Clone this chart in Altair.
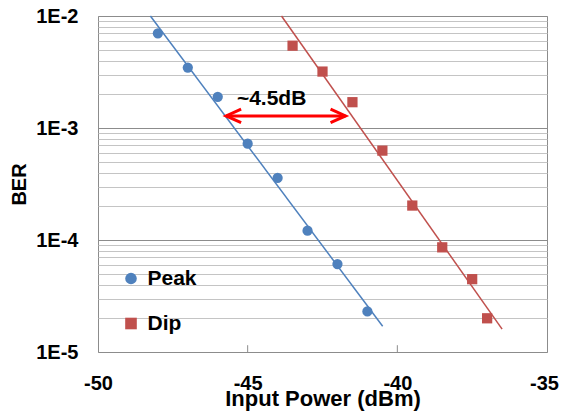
import altair as alt
import pandas as pd

# ---- data ----
peak_x = [-48, -47, -46, -45, -44, -43, -42, -41]
peak_y = [7.0e-3, 3.46e-3, 1.90e-3, 7.25e-4, 3.58e-4, 1.21e-4, 6.1e-5, 2.3e-5]
dip_x = [-43.5, -42.5, -41.5, -40.5, -39.5, -38.5, -37.5, -37.0]
dip_y = [5.43e-3, 3.19e-3, 1.70e-3, 6.28e-4, 2.03e-4, 8.6e-5, 4.47e-5, 2.0e-5]

# trendline end points (as drawn)
peak_fit_x = [-48.25, -40.49]
peak_fit_y = [1e-2, 1.7e-5]
dip_fit_x = [-43.87, -36.5]
dip_fit_y = [1e-2, 1.6e-5]

# annotation
arrow_x = [-45.72, -41.73]
arrow_y = 1.28e-3
note_x = -44.2
note_y = 1.61e-3
note_text = "~4.5dB"

series_names = ["Peak", "Dip"]
series_colors = ["#4F81BD", "#C0504D"]
series_shapes = ["circle", "square"]

x_ticks = [-50, -45, -40, -35]
inner_tick_x = [-45, -40]
y_grid = [m * 10.0 ** e for e in (-5, -4, -3) for m in range(1, 10)] + [1e-2]

FONT = "Liberation Sans"

pts = pd.DataFrame(
    {"x": peak_x + dip_x,
     "y": peak_y + dip_y,
     "series": ["Peak"] * len(peak_x) + ["Dip"] * len(dip_x)}
)
peak_fit = pd.DataFrame({"x": peak_fit_x, "y": peak_fit_y})
dip_fit = pd.DataFrame({"x": dip_fit_x, "y": dip_fit_y})
arrow = pd.DataFrame({"x": [arrow_x[0]], "x2": [arrow_x[1]], "y": [arrow_y]})
heads = pd.DataFrame({"x": arrow_x, "y": [arrow_y, arrow_y], "side": ["L", "R"]})
note = pd.DataFrame({"x": [note_x], "y": [note_y], "t": [note_text]})
itick = pd.DataFrame({"x": inner_tick_x, "y": [1e-5] * 2, "y2": [1.15e-5] * 2})

xscale = alt.Scale(domain=[-50, -35], nice=False)
yscale = alt.Scale(type="log", domain=[1e-5, 1e-2], nice=False)

is_decade = "abs(log(datum.value)/LN10 - round(log(datum.value)/LN10)) < 0.001"

xaxis = alt.Axis(
    values=x_ticks, grid=False, ticks=False, tickSize=0, domain=False, labelFlush=False,
    labelExpr="'' + datum.value",
    labelOffset={"condition": {"test": "datum.value == -35", "value": -3}, "value": 0},
    labelFont=FONT, labelFontSize=20, labelFontWeight="bold", labelColor="black",
    labelPadding=21, title="Input Power (dBm)", titleFont=FONT, titleFontSize=22,
    titleFontWeight="bold", titleColor="black", titleBaseline="alphabetic", titleY=53,
)
yaxis = alt.Axis(
    values=y_grid, grid=True, labelFlush=False,
    gridColor={"condition": {"test": is_decade, "value": "#8C8C8C"}, "value": "#C4C4C4"},
    ticks=False, tickSize=0, domain=False,
    labelExpr=f"{is_decade} ? '1E' + round(log(datum.value)/LN10) : ''",
    labelFont=FONT, labelFontSize=20, labelFontWeight="bold", labelColor="black",
    labelPadding=20, title="BER", titleFont=FONT, titleFontSize=20,
    titleFontWeight="bold", titleColor="black", titleAngle=-90, titleX=-79, titleY=168,
    titleAlign="center", titleBaseline="middle",
)

base_x = alt.X("x:Q", scale=xscale, axis=xaxis)
base_y = alt.Y("y:Q", scale=yscale, axis=yaxis)

peak_line = alt.Chart(peak_fit).mark_line(color=series_colors[0], strokeWidth=1.5).encode(
    x=alt.X("x:Q", scale=xscale), y=alt.Y("y:Q", scale=yscale))
dip_line = alt.Chart(dip_fit).mark_line(color=series_colors[1], strokeWidth=1.5).encode(
    x=alt.X("x:Q", scale=xscale), y=alt.Y("y:Q", scale=yscale))

points = alt.Chart(pts).mark_point(filled=True, opacity=1, size=105).encode(
    x=base_x, y=base_y,
    color=alt.Color("series:N", scale=alt.Scale(domain=series_names, range=series_colors),
                    legend=alt.Legend(title=None, orient="none", legendX=22.5, legendY=252,
                                      padding=0, labelFont=FONT, labelFontSize=21,
                                      labelFontWeight="bold", labelColor="black",
                                      symbolSize=135, labelOffset=6, rowPadding=23,
                                      symbolStrokeWidth=0)),
    shape=alt.Shape("series:N", scale=alt.Scale(domain=series_names, range=series_shapes)),
)

arrow_line = alt.Chart(arrow).mark_rule(color="#FF0000", strokeWidth=3).encode(
    x=alt.X("x:Q", scale=xscale), x2="x2:Q", y=alt.Y("y:Q", scale=yscale))

head_l = alt.Chart(heads[heads.side == "L"]).mark_point(
    shape="M 1 -0.45 L 0 0 L 1 0.45", filled=False, size=900, color="#FF0000",
    strokeWidth=3, opacity=1, strokeJoin="miter").encode(
    x=alt.X("x:Q", scale=xscale), y=alt.Y("y:Q", scale=yscale))
head_r = alt.Chart(heads[heads.side == "R"]).mark_point(
    shape="M -1 -0.45 L 0 0 L -1 0.45", filled=False, size=900, color="#FF0000",
    strokeWidth=3, opacity=1, strokeJoin="miter").encode(
    x=alt.X("x:Q", scale=xscale), y=alt.Y("y:Q", scale=yscale))

note_mark = alt.Chart(note).mark_text(
    font=FONT, fontSize=21, fontWeight="bold", color="black", align="center",
    baseline="alphabetic").encode(
    x=alt.X("x:Q", scale=xscale), y=alt.Y("y:Q", scale=yscale), text="t:N")

inner_ticks = alt.Chart(itick).mark_rule(color="#8C8C8C", strokeWidth=1).encode(
    x=alt.X("x:Q", scale=xscale), y=alt.Y("y:Q", scale=yscale), y2="y2:Q")

chart = alt.layer(
    points, peak_line, dip_line, inner_ticks, arrow_line, head_l, head_r, note_mark
).properties(
    width=449, height=336,
    autosize=alt.AutoSizeParams(type="none"),
    padding={"left": 90, "top": 8, "right": 12, "bottom": 62},
).configure_view(stroke="#8C8C8C", strokeWidth=1)

chart.save("out.html", embed_options={"renderer": "svg", "actions": False})
